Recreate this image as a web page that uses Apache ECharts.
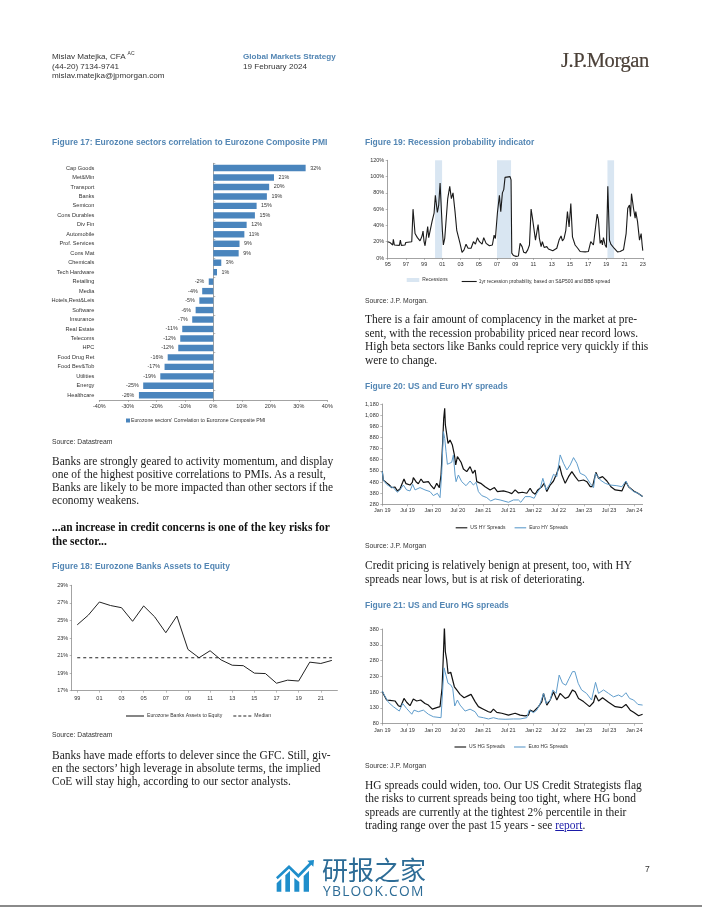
<!DOCTYPE html>
<html><head><meta charset="utf-8">
<script src="https://cdn.jsdelivr.net/npm/echarts@6/dist/echarts.min.js"></script>
<style>
html,body{margin:0;padding:0;background:#fff;width:702px;height:907px;overflow:hidden}
#chart{position:absolute;left:0;top:0;width:702px;height:907px}
.t{position:absolute;white-space:nowrap;line-height:14px;height:14px}
.b{font-family:"Liberation Serif",serif;font-size:11.45px;color:#222}
.s{font-family:"Liberation Sans",Arial,sans-serif;font-size:6.8px;color:#333}
.h{font-family:"Liberation Sans",Arial,sans-serif;font-size:9.4px;font-weight:bold;color:#5386b4;transform:scaleX(.905);transform-origin:left center}
.m{font-family:"Liberation Sans",Arial,sans-serif;font-size:8.1px;color:#333}
</style></head><body>
<div id="chart"></div>
<div class="t m" style="left:52px;top:50px">Mislav Matejka, CFA <sup style="font-size:5px;line-height:0">AC</sup></div>
<div class="t m" style="left:52px;top:59.5px">(44-20) 7134-9741</div>
<div class="t m" style="left:52px;top:69px">mislav.matejka@jpmorgan.com</div>
<div class="t m" style="left:243px;top:50px;color:#5386b4;font-weight:bold">Global Markets Strategy</div>
<div class="t m" style="left:243px;top:60px">19 February 2024</div>
<div class="t" style="left:561px;top:49px;height:22px;line-height:22px;font-family:'Liberation Serif',serif;font-size:20.5px;letter-spacing:-.4px;color:#4b4038;-webkit-text-stroke:.2px #4b4038">J.P.Morgan</div>

<div class="t h" style="left:52px;top:135px">Figure 17: Eurozone sectors correlation to Eurozone Composite PMI</div>
<div class="t s" style="left:52px;top:434.5px">Source: Datastream</div>
<div class="t b" style="left:52px;top:454px">Banks are strongly geared to activity momentum, and display</div>
<div class="t b" style="left:52px;top:467px">one of the highest positive correlations to PMIs. As a result,</div>
<div class="t b" style="left:52px;top:480px">Banks are likely to be more impacted than other sectors if the</div>
<div class="t b" style="left:52px;top:493px">economy weakens.</div>
<div class="t b" style="left:52px;top:520px;font-weight:bold;color:#111">...an increase in credit concerns is one of the key risks for</div>
<div class="t b" style="left:52px;top:534px;font-weight:bold;color:#111">the sector...</div>
<div class="t h" style="left:52px;top:559px">Figure 18: Eurozone Banks Assets to Equity</div>
<div class="t s" style="left:52px;top:728px">Source: Datastream</div>
<div class="t b" style="left:52px;top:748px">Banks have made efforts to delever since the GFC. Still, giv-</div>
<div class="t b" style="left:52px;top:761px">en the sectors’ high leverage in absolute terms, the implied</div>
<div class="t b" style="left:52px;top:774px">CoE will stay high, according to our sector analysts.</div>

<div class="t h" style="left:365px;top:135px">Figure 19: Recession probability indicator</div>
<div class="t s" style="left:365px;top:294px">Source: J.P. Morgan.</div>
<div class="t b" style="left:365px;top:312px">There is a fair amount of complacency in the market at pre-</div>
<div class="t b" style="left:365px;top:326px">sent, with the recession probability priced near record lows.</div>
<div class="t b" style="left:365px;top:339px">High beta sectors like Banks could reprice very quickly if this</div>
<div class="t b" style="left:365px;top:353px">were to change.</div>
<div class="t h" style="left:365px;top:379px">Figure 20: US and Euro HY spreads</div>
<div class="t s" style="left:365px;top:539px">Source: J.P. Morgan</div>
<div class="t b" style="left:365px;top:558px">Credit pricing is relatively benign at present, too, with HY</div>
<div class="t b" style="left:365px;top:572px">spreads near lows, but is at risk of deteriorating.</div>
<div class="t h" style="left:365px;top:598px">Figure 21: US and Euro HG spreads</div>
<div class="t s" style="left:365px;top:759px">Source: J.P. Morgan</div>
<div class="t b" style="left:365px;top:778px">HG spreads could widen, too. Our US Credit Strategists flag</div>
<div class="t b" style="left:365px;top:791px">the risks to current spreads being too tight, where HG bond</div>
<div class="t b" style="left:365px;top:805px">spreads are currently at the tightest 2% percentile in their</div>
<div class="t b" style="left:365px;top:818px">trading range over the past 15 years - see <span style="color:#1a1aa8;text-decoration:underline">report</span>.</div>

<div class="t m" style="left:645px;top:862px;font-size:8.5px">7</div>
<svg style="position:absolute;left:270px;top:850px" width="60" height="50" viewBox="0 0 180 150">
 <g fill="#1f8ecb">
  <path d="M20 125V100L34 86V125Z"/><path d="M46 125V76L60 62L60 125Z"/>
  <path d="M73 125V84L88 96V125Z"/><path d="M101 125V78L117 62V125Z"/>
  <path d="M132 30L112 32L118 38L85 72L57 45L18 82L23 88L57 56L85 84L124 44L130 50Z"/>
 </g>
</svg>
<div class="t" style="left:322px;top:853px;height:32px;line-height:32px;font-family:'Noto Sans CJK SC',sans-serif;font-size:26px;color:#2d6c96">研报之家</div>
<div class="t" style="left:323px;top:882px;height:18px;line-height:18px;font-family:'Open Sans','Noto Sans',sans-serif;font-size:13.8px;letter-spacing:1.25px;color:#2d6c96">YBLOOK.COM</div>
<div style="position:absolute;left:0;top:905px;width:702px;height:2px;background:#8a8a8a"></div>

<script>
// Figure 17
const sectors = ['Cap Goods','Met&Min','Transport','Banks','Semicon','Cons Durables','Div Fin','Automobile','Prof. Services','Cons Mat','Chemicals','Tech Hardware','Retailing','Media','Hotels,Rest&Leis','Software','Insurance','Real Estate','Telecoms','HPC','Food Drug Ret','Food Bev&Tob','Utilities','Energy','Healthcare'];
const sectorCorr = [32.4,21.3,19.6,18.8,15.2,14.6,11.7,10.9,9.2,8.9,2.8,1.3,-1.6,-3.9,-4.9,-6.2,-7.4,-10.9,-11.6,-12.3,-16,-17.1,-18.6,-24.6,-26.1];
// Figure 18
const assetYears = ['99','00','01','02','03','04','05','06','07','08','09','10','11','12','13','14','15','16','17','18','19','20','21','22'];
const assetEquity = [24.5,25.6,27.1,26.7,26.45,24.9,26.65,25.4,23.6,25.5,21.7,20.75,21.55,20.5,19.9,19.85,19,18.95,17.85,18.2,18.1,20.25,20.1,20.45];
const assetMedian = assetYears.map(()=>20.75);
const assetTicks = [17,19,21,23,25,27,29];
// Figure 19
const recYears = [1995,1995.26,1995.55,1995.62,1995.73,1996.28,1996.39,1996.5,1996.9,1996.98,1997.64,1997.78,1997.89,1998,1998.26,1998.55,1998.77,1998.88,1998.99,1999.1,1999.21,1999.39,1999.5,1999.65,1999.87,2000.09,2000.23,2000.45,2000.6,2000.75,2000.93,2001,2001.11,2001.26,2001.41,2001.59,2001.81,2001.99,2002.17,2002.39,2002.58,2002.76,2002.94,2003.16,2003.38,2003.6,2003.82,2004.15,2004.41,2004.63,2004.85,2005.07,2005.36,2005.54,2005.8,2006.16,2006.49,2006.68,2006.82,2007.04,2007.26,2007.41,2007.59,2007.74,2007.88,2008.07,2008.43,2008.54,2008.62,2008.8,2009.09,2009.35,2009.53,2009.75,2009.93,2010.15,2010.37,2010.56,2010.74,2010.89,2011,2011.22,2011.36,2011.51,2011.65,2011.84,2011.98,2012.17,2012.46,2012.64,2013.12,2013.56,2013.81,2014.03,2014.18,2014.36,2014.55,2014.73,2014.91,2015.1,2015.28,2015.57,2015.86,2016.12,2016.67,2017.03,2017.29,2017.58,2017.77,2017.99,2018.13,2018.32,2018.46,2018.57,2018.68,2018.86,2019.01,2019.16,2019.34,2019.49,2019.67,2019.85,2020.22,2020.51,2020.88,2021.17,2021.35,2021.54,2021.65,2021.76,2021.98,2022.16,2022.23,2022.42,2022.64,2022.75,2022.82,2022.93,2023];
const recProb = [20,19,16,23,16,15.5,22,15.5,16,19,20,60,60,30,25,21,27,33,20,15,24,38.5,25,27,45,55,77,56,65,92,90,34,16,24,22,73,88,73,80,57,34,26,18,7,10,17,12,12,20,17,25,20,17,25,18,15,16,28,24,55,77,57,80,84,99,100,100,96,6,3,2,2.5,18,14,7,6,10,16,60,49,48,22,20,41,24,14,20,13,14,11,9,12,22,27,21,24,34,57,38,67,26,16,12,8,7.5,8,20,16,16,54,47,18,22,16,25,16,13,88,22,17,17,12,7.5,8,10,30,61,65,51,79,61,49,57,45,22,23,30,16,9];
const recBands = [[2000.2,2000.97],[2007,2008.54],[2019.12,2019.85]];
const recXTicks = [1995,1997,1999,2001,2003,2005,2007,2009,2011,2013,2015,2017,2019,2021,2023];
// Figures 20 and 21: x is months since Jan 2019
const spreadMonths = [0,6,12,18,24,30,36,42,48,54,60];
const spreadMonthLabels = ['Jan 19','Jul 19','Jan 20','Jul 20','Jan 21','Jul 21','Jan 22','Jul 22','Jan 23','Jul 23','Jan 24'];
const hyTicks = [280,380,480,580,680,780,880,980,1080,1180];
const hgTicks = [80,130,180,230,280,330,380];
const usHyM = [0,.24,.87,1.67,2.23,3.02,3.58,4.21,4.85,5.17,5.64,6.6,7.15,7.39,8.03,8.58,9.22,9.78,10.97,11.53,12.32,12.96,13.59,13.99,14.31,14.63,14.86,15.02,15.34,15.66,16.14,16.69,17.17,17.49,17.89,18.28,18.76,19.32,20.11,20.91,21.54,22.1,22.5,23.45,24.48,25.68,26.71,27.42,28.86,30.05,30.84,31.64,32.43,33.39,34.42,35.21,35.77,36.41,37.04,38,38.55,39.19,39.98,40.78,41.57,42.21,42.77,43.56,44.36,45.15,45.95,46.74,47.93,48.73,49.52,50.08,50.87,51.51,52.46,53.5,54.45,55.48,57.07,58.03,58.66,59.86,60.89,62];
const usHyV = [575,495,477,453,430,435,400,418,477,507,465,453,477,519,483,465,507,477,483,453,418,468,430,543,782,1051,1141,992,977,827,857,812,723,633,708,723,657,597,573,618,558,588,483,468,438,409,430,394,400,388,376,409,382,388,379,424,388,370,409,438,468,394,453,489,558,627,543,468,528,573,528,489,498,483,438,438,567,513,528,489,438,409,400,483,438,400,379,349];
const euHyM = [0,.24,1.03,1.83,2.62,3.58,4.21,5.01,5.8,6.6,7.23,7.79,8.98,10.17,11.37,12.16,13.12,13.75,14.15,14.55,14.86,15.18,15.5,16.53,16.93,17.33,17.57,18.12,18.92,19.95,20.91,21.7,22.34,22.89,23.69,24.88,25.83,26.87,28.06,30.05,31.24,32.43,32.99,34.02,35.21,36.17,36.8,37.6,38.24,39.03,39.98,40.78,41.57,42.37,43.16,43.96,44.75,45.55,46.34,47.14,48.33,49.52,50.32,50.79,51.91,53.1,54.29,55.88,57.07,58.03,58.66,59.86,60.89,62];
const euHyV = [575,498,459,438,430,388,409,453,409,400,459,409,430,409,394,358,379,340,558,932,872,752,639,657,723,543,483,543,483,447,489,453,477,394,358,340,310,328,319,298,319,319,298,349,349,334,379,424,513,409,468,549,528,723,648,588,633,699,648,558,537,468,430,558,498,468,453,447,438,489,438,394,379,349];
const usHgM = [0,.4,1.03,1.83,3.02,3.82,4.37,5.17,5.8,6.6,7.39,8.19,9.14,10.17,10.97,11.92,12.96,13.75,14.23,14.55,14.79,15.02,15.34,15.66,16.3,16.69,17.17,17.73,18.52,19.48,20.51,21.14,22.1,22.89,24.08,25.28,25.83,26.47,27.27,28.46,30.05,31.64,32.83,34.02,34.82,35.21,36.01,37.2,38,38.4,39.19,39.98,40.78,41.57,42.37,43.56,44.36,45.31,45.95,46.74,47.93,49.36,50.32,50.79,51.51,52.46,53.89,55.48,57.07,58.03,59.06,59.86,61.05,62];
const usHgV = [183,171,155,154,152,137,134,160,148,137,158,152,155,144,139,126,131,134,192,298,386,308,282,239,243,247,197,187,173,162,169,173,150,134,126,118,116,126,116,113,107,113,107,105,107,123,118,134,150,176,139,155,181,155,176,160,165,187,181,160,150,134,148,171,152,162,148,134,131,141,123,116,105,110];
const euHgM = [0,.4,1.43,2.62,4.05,4.85,5.8,7.03,7.55,8.58,9.78,10.97,12.16,13.99,14.31,14.71,15.18,15.66,16.3,16.77,17.25,17.89,18.52,19.72,20.91,22.1,22.89,24.08,25.28,26.47,27.66,29.25,31.24,32.83,34.42,34.98,36.01,36.8,37.6,38.4,39.03,39.98,40.62,41.41,42.13,42.93,43.72,44.52,45.31,45.87,46.66,47.46,48.65,49.84,50.24,50.79,51.51,52.7,53.89,55.08,56.27,57.07,58.03,58.9,59.86,60.89,62];
const euHgV = [183,173,148,134,120,144,128,110,123,118,123,110,102,99,171,257,253,208,203,192,136,155,139,120,126,118,102,99,95,99,95,94,95,95,99,123,115,123,144,176,144,155,187,176,234,208,202,224,245,245,208,187,176,155,160,211,176,187,176,165,171,165,178,160,155,141,139];

const pairs=(a,b)=>a.map((x,i)=>[x,b[i]]);
const labelColor='#333', axisColor='#8c8c8c', fs=5.5;
const axisLabel=(o)=>Object.assign({color:labelColor,fontSize:fs,fontFamily:'Liberation Sans',margin:3.5},o);
const axisLine={show:true,onZero:false,lineStyle:{color:axisColor,width:.8}};
const axisTick=(o)=>Object.assign({show:true,length:2,lineStyle:{color:axisColor,width:.6}},o);
const lgText=(size,pad)=>({color:labelColor,fontSize:size,fontFamily:'Liberation Sans',padding:[0,0,0,pad]});
const legendBase=(o)=>Object.assign({orient:'horizontal',padding:0,icon:'rect',itemHeight:1.1,textStyle:lgText(5.1,-2)},o);
const dashIcon='path://M0 0H3V1H0ZM5 0H8V1H5ZM10 0H13V1H10ZM15 0H18V1H15Z';
const line=(name,x,y,c,w,d,extra)=>Object.assign({name,type:'line',xAxisIndex:x,yAxisIndex:y,data:d,symbol:'none',smooth:false,z:3,color:c,lineStyle:{color:c,width:w},animation:false},extra||{});

const option={
 animation:false,
 grid:[
  {left:99.3,top:163.3,width:228,height:236.7},
  {left:71.7,top:585.3,width:265.7,height:105.4},
  {left:387.7,top:160.3,width:256,height:97.7},
  {left:382.3,top:404,width:260.3,height:100.3},
  {left:382.3,top:629,width:260.3,height:94.7}
 ],
 xAxis:[
  {gridIndex:0,type:'value',min:-40,max:40,interval:10,splitLine:{show:false},axisLine:axisLine,axisTick:axisTick(),axisLabel:axisLabel({formatter:'{value}%'})},
  {gridIndex:1,type:'category',data:assetYears,axisLine:axisLine,axisTick:axisTick({alignWithLabel:true}),axisLabel:axisLabel({interval:1,margin:5})},
  {gridIndex:2,type:'value',min:1995,max:2023.1,splitLine:{show:false},axisLine:axisLine,axisTick:axisTick({customValues:recXTicks}),axisLabel:axisLabel({customValues:recXTicks,formatter:v=>String(v).slice(2)})},
  {gridIndex:3,type:'value',min:0,max:62,splitLine:{show:false},axisLine:axisLine,axisTick:axisTick({customValues:spreadMonths}),axisLabel:axisLabel({customValues:spreadMonths,formatter:v=>spreadMonthLabels[spreadMonths.indexOf(v)]})},
  {gridIndex:4,type:'value',min:0,max:62,splitLine:{show:false},axisLine:axisLine,axisTick:axisTick({customValues:spreadMonths}),axisLabel:axisLabel({customValues:spreadMonths,formatter:v=>spreadMonthLabels[spreadMonths.indexOf(v)]})}
 ],
 yAxis:[
  {gridIndex:0,type:'category',inverse:true,data:sectors,axisLine:{show:false,onZero:false},axisTick:{show:false},axisLabel:axisLabel({margin:5,fontSize:5.6})},
  {gridIndex:0,type:'category',inverse:true,data:sectors,axisLine:{show:true,onZero:true,lineStyle:{color:axisColor,width:.8}},axisTick:axisTick(),axisLabel:{show:false}},
  {gridIndex:1,type:'value',min:17,max:29,splitLine:{show:false},axisLine:axisLine,axisTick:axisTick({customValues:assetTicks}),axisLabel:axisLabel({customValues:assetTicks,formatter:'{value}%'})},
  {gridIndex:2,type:'value',min:0,max:120,interval:20,splitLine:{show:false},axisLine:axisLine,axisTick:axisTick(),axisLabel:axisLabel({formatter:'{value}%'})},
  {gridIndex:3,type:'value',min:280,max:1180,splitLine:{show:false},axisLine:axisLine,axisTick:axisTick({customValues:hyTicks}),axisLabel:axisLabel({customValues:hyTicks,formatter:v=>v.toLocaleString('en-US')})},
  {gridIndex:4,type:'value',min:80,max:380,splitLine:{show:false},axisLine:axisLine,axisTick:axisTick({customValues:hgTicks}),axisLabel:axisLabel({customValues:hgTicks})}
 ],
 legend:[
  legendBase({left:126,top:418,itemWidth:4,itemHeight:4,data:["Eurozone sectors' Correlation to Eurozone Composite PMI"],textStyle:lgText(5.2,-4)}),
  legendBase({left:126,top:713.5,itemWidth:18,itemGap:11,data:['Eurozone Banks Assets to Equity',{name:'Median',icon:dashIcon}]}),
  legendBase({left:406.7,top:277.5,itemWidth:12.6,itemHeight:4,data:['Recessions'],textStyle:lgText(4.9,-2)}),
  legendBase({left:461.7,top:279,itemWidth:15,data:['1yr recession probability, based on S&P500 and BBB spread'],textStyle:lgText(4.9,-3)}),
  legendBase({left:455.7,top:525.3,itemWidth:11.6,itemGap:9,data:['US HY Spreads','Euro HY Spreads'],textStyle:lgText(5,-2)}),
  legendBase({left:454.5,top:744.5,itemWidth:11.6,itemGap:9,data:['US HG Spreads','Euro HG Spreads'],textStyle:lgText(5,-2)})
 ],
 series:[
  {name:"Eurozone sectors' Correlation to Eurozone Composite PMI",type:'bar',xAxisIndex:0,yAxisIndex:0,data:sectorCorr,barWidth:6.4,color:'#4a85bd',itemStyle:{color:'#4a85bd'},
   label:{show:true,position:'outside',distance:4.5,fontSize:5.4,color:labelColor,fontFamily:'Liberation Sans',formatter:p=>p.value.toFixed(0)+'%'}},
  line('Eurozone Banks Assets to Equity',1,2,'#222',1,assetEquity),
  line('Median',1,2,'#222',1,assetMedian,{lineStyle:{color:'#222',width:1,type:[3,3]}}),
  {name:'Recessions',type:'line',xAxisIndex:2,yAxisIndex:3,data:[],symbol:'none',color:'#d9e6f2',lineStyle:{color:'#d9e6f2',width:3},z:1,
   markArea:{silent:true,itemStyle:{color:'#d9e6f2'},data:recBands.map(b=>[{xAxis:b[0]},{xAxis:b[1]}])}},
  line('1yr recession probability, based on S&P500 and BBB spread',2,3,'#1a1a1a',1.1,pairs(recYears,recProb)),
  line('US HY Spreads',3,4,'#111',1.2,pairs(usHyM,usHyV),{z:3}),
  line('Euro HY Spreads',3,4,'#5f9ccb',1,pairs(euHyM,euHyV),{z:4}),
  line('US HG Spreads',4,5,'#111',1.2,pairs(usHgM,usHgV),{z:3}),
  line('Euro HG Spreads',4,5,'#5f9ccb',1,pairs(euHgM,euHgV),{z:4})
 ]
};
const chart=echarts.init(document.getElementById('chart'),null,{renderer:'canvas'});
chart.setOption(option);
</script>
</body></html>
